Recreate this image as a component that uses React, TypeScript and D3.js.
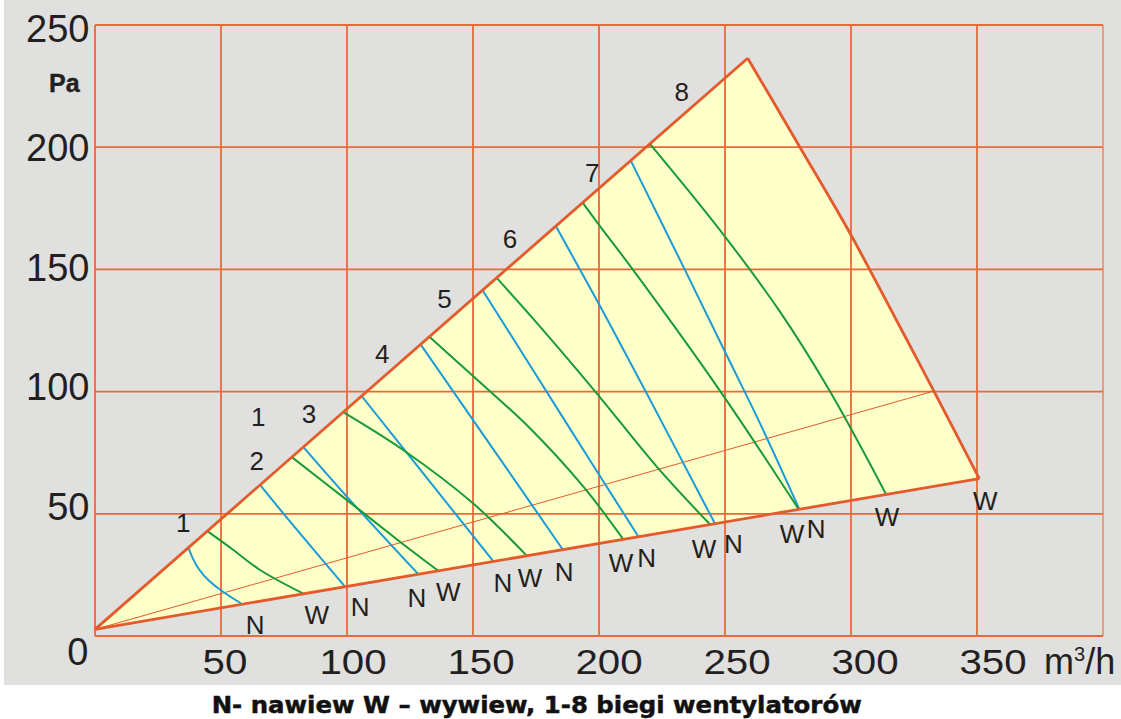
import React from 'react';
import * as d3 from 'd3';

const WIDTH = 1121;
const HEIGHT = 719;

// axis ticks and grid
const xGridValues = [0, 50, 100, 150, 200, 250, 300, 350, 400];
const yGridValues = [0, 50, 100, 150, 200, 250];
const xTickLabels = [50, 100, 150, 200, 250, 300, 350];
const yTickLabels = [50, 100, 150, 200, 250];

// envelope of the working field (m3/h, Pa)
const upperLine: [number, number][] = [[0, 2.7], [259, 236.4]];
const rightEdge: [number, number][] = [
  [259, 236.4], [279.8, 199.9], [298.9, 166.1], [320.1, 125.2], [333.1, 99.8], [350.9, 64.4],
];
const lowerLine: [number, number][] = [[350.9, 64.4], [0, 2.7]];
const thinLine: [number, number][] = [[0, 2.7], [333.2, 100.3]];

// N (nawiew) curves, speeds 1-8
const nCurves: [number, number][][] = [
  [[37.0, 36.2], [38.6, 32.0], [41.2, 27.0], [45.0, 22.6], [50.3, 18.3], [58.6, 12.9]],
  [[65.5, 61.8], [74.7, 50.2], [88.0, 33.8], [99.2, 20.2]],
  [[82.7, 77.3], [101.2, 55.6], [128.3, 25.3]],
  [[105.8, 98.2], [123.7, 75.0], [158.1, 30.5]],
  [[129.2, 119.3], [157.4, 77.4], [185.6, 35.4]],
  [[153.8, 141.5], [184.7, 91.0], [215.6, 40.7]],
  [[182.9, 167.7], [200.4, 135.0], [218.9, 99.3], [246.0, 46.0]],
  [[212.6, 194.5], [234.1, 149.8], [250.0, 116.3], [263.9, 87.0], [279.5, 51.9]],
];

// W (wywiew) curves, speeds 1-7 (speed 8 is the right edge of the field)
const wCurves: [number, number][][] = [
  [[44.6, 42.9], [54.9, 35.2], [65.5, 27.0], [82.7, 17.3]],
  [[78.1, 73.2], [100.0, 55.6], [121.0, 38.6], [136.2, 26.7]],
  [[98.5, 91.6], [122.3, 76.1], [150.0, 54.3], [171.3, 32.9]],
  [[132.7, 122.4], [150.0, 106.4], [172.6, 85.0], [193.8, 61.1], [209.6, 39.6]],
  [[159.4, 146.5], [176.6, 126.6], [199.1, 99.3], [222.9, 69.3], [244.0, 45.7]],
  [[193.5, 177.3], [200.0, 168.2], [213.6, 149.7], [248.7, 99.3], [279.2, 51.9]],
  [[220.2, 201.4], [248.0, 166.1], [271.8, 132.7], [291.7, 100.0], [313.9, 58.0]],
];

// label anchors (data units)
const nLabelX = [63.5, 105.2, 127.7, 161.9, 186.2, 218.9, 253.3, 286.2];
const wLabelX = [88.0, 140.2, 172.6, 208.7, 241.7, 276.6, 314.3, 353.3];
const speedLabels = ['1', '2', '3', '1', '4', '5', '6', '7', '8'];
const speedLabelX = [35.0, 64.2, 84.9, 64.8, 114.0, 138.7, 164.7, 197.3, 232.8];
const speedLabelY = [46.4, 71.8, 91.1, 89.7, 115.5, 137.9, 162.4, 189.7, 222.7];

const caption = 'N- nawiew W \u2013 wywiew, 1-8 biegi wentylatorów';

const GRID = '#e9693a';
const EDGE = '#e35a2b';
const BLUE = '#1b9bd8';
const GREEN = '#189a3a';
const TEXT = '#231f20';
const FONT = '"Liberation Sans", Arial, sans-serif';

export default function App() {
  const x = d3.scaleLinear().domain([0, 400]).range([95, 1103]);
  const y = d3.scaleLinear().domain([0, 250]).range([636, 25]);
  const xLabelPos = d3.scaleLinear().domain([50, 350]).range([x(50) + 4, x(350) + 16]);
  const yLabelBase = d3.scaleLinear().domain([50, 250]).range([y(50) + 6, y(250) + 16.7]);
  const lowerAt = d3.scaleLinear().domain([lowerLine[1][0], lowerLine[0][0]]).range([lowerLine[1][1], lowerLine[0][1]]);

  const straight = d3.line<[number, number]>().x(d => x(d[0])).y(d => y(d[1]));
  const smooth = d3.line<[number, number]>().x(d => x(d[0])).y(d => y(d[1])).curve(d3.curveCatmullRom.alpha(0.5));
  const soft = d3.line<[number, number]>().x(d => x(d[0])).y(d => y(d[1])).curve(d3.curveBasis);

  const fieldPath = straight(upperLine)! + smooth(rightEdge)!.replace(/^M/, 'L') + straight(lowerLine)!.replace(/^M/, 'L') + 'Z';

  return (
    <svg width={WIDTH} height={HEIGHT} style={{ position: 'absolute', left: 0, top: 0 }} xmlns="http://www.w3.org/2000/svg">
      <rect x={0} y={0} width={WIDTH} height={HEIGHT} fill="#ffffff" />
      <rect x={4} y={0} width={WIDTH - 4} height={685} fill="#e0e0de" />

      {/* working field */}
      <path d={fieldPath} fill="#ffffc9" stroke="none" />

      {/* grid */}
      {xGridValues.map(v => (
        <line key={'gx' + v} x1={x(v)} x2={x(v)} y1={y(0)} y2={y(250)}
          stroke={v === 400 ? '#e8967a' : GRID} strokeWidth={1.8} />
      ))}
      {yGridValues.map(v => (
        <line key={'gy' + v} x1={x(0)} x2={x(400)} y1={y(v)} y2={y(v)} stroke={GRID} strokeWidth={1.8} />
      ))}

      {/* thin diagonal */}
      <path d={straight(thinLine)!} fill="none" stroke={EDGE} strokeWidth={1} />

      {/* curves */}
      {nCurves.map((c, i) => (
        <path key={'n' + i} d={(i === 0 ? soft(c) : smooth(c))!} fill="none" stroke={BLUE} strokeWidth={2} />
      ))}
      {wCurves.map((c, i) => (
        <path key={'w' + i} d={smooth(c)!} fill="none" stroke={GREEN} strokeWidth={2} />
      ))}

      {/* envelope */}
      <path d={straight(upperLine)!} fill="none" stroke={EDGE} strokeWidth={2.8} />
      <path d={smooth(rightEdge)!} fill="none" stroke={EDGE} strokeWidth={2.8} />
      <path d={straight(lowerLine)!} fill="none" stroke={EDGE} strokeWidth={2.8} />

      {/* N / W labels */}
      <g fontFamily={FONT} fontSize={26} fill={TEXT} textAnchor="middle">
        {nLabelX.map((v, i) => (
          <text key={'nl' + i} x={x(v)} y={y(lowerAt(v)) + 32}>N</text>
        ))}
        {wLabelX.map((v, i) => (
          <text key={'wl' + i} x={x(v)} y={y(lowerAt(v)) + 32}>W</text>
        ))}
        {speedLabels.map((s, i) => (
          <text key={'sl' + i} x={x(speedLabelX[i])} y={y(speedLabelY[i])} dy="0.36em">{s}</text>
        ))}
      </g>

      {/* y tick labels */}
      <g fontFamily={FONT} fontSize={38} fill={TEXT} textAnchor="end">
        {yTickLabels.map(v => (
          <text key={'yl' + v} x={89.5} y={yLabelBase(v)}>{v}</text>
        ))}
        <text x={88.5} y={665}>0</text>
      </g>

      {/* x tick labels */}
      <g fontFamily={FONT} fontSize={35} fill={TEXT} textAnchor="middle">
        {xTickLabels.map(v => (
          <text key={'xl' + v} transform={`translate(${xLabelPos(v)},674) scale(1.15,1)`}>{v}</text>
        ))}
      </g>

      {/* units */}
      <text x={1044} y={674} fontFamily={FONT} fontSize={36} fill={TEXT}>
        m<tspan fontSize={20} dy={-13}>3</tspan><tspan dy={13}>/h</tspan>
      </text>
      <text x={49} y={92} fontFamily={FONT} fontSize={25} fontWeight="bold" fill={TEXT}
        stroke={TEXT} strokeWidth={0.4}>Pa</text>

      {/* caption */}
      <text x={211.7} y={713} fontFamily='"DejaVu Sans", Verdana, sans-serif' fontSize={23.5} fontWeight="bold"
        fill="#111111" stroke="#111111" strokeWidth={0.5} textLength={650} lengthAdjust="spacingAndGlyphs">{caption}</text>
    </svg>
  );
}
